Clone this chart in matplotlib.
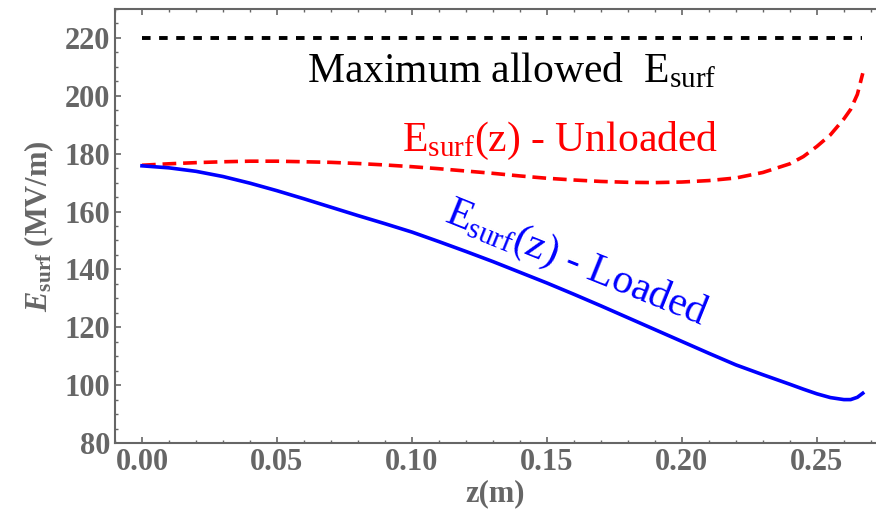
import matplotlib
matplotlib.use("Agg")
import matplotlib.pyplot as plt
from matplotlib.ticker import MultipleLocator

plt.rcParams['font.family'] = 'Liberation Serif'
plt.rcParams['mathtext.fontset'] = 'custom'
plt.rcParams['mathtext.rm'] = 'Liberation Serif'
plt.rcParams['mathtext.it'] = 'Liberation Serif:italic'
plt.rcParams['mathtext.bf'] = 'Liberation Serif:bold'
plt.rcParams['mathtext.bfit'] = 'Liberation Serif:bold:italic'

# values
z = [0.0, 0.01, 0.02, 0.03, 0.04, 0.05, 0.06, 0.07, 0.08, 0.09, 0.10, 0.11, 0.12,
     0.13, 0.14, 0.15, 0.16, 0.17, 0.18, 0.19, 0.20, 0.21, 0.22, 0.23, 0.24,
     0.245, 0.25, 0.255, 0.26, 0.2625, 0.265, 0.267]
e_unloaded = [176.0, 176.5, 176.9, 177.2, 177.4, 177.4, 177.2, 177.0, 176.6, 176.1,
              175.5, 174.8, 174.0, 173.2, 172.3, 171.5, 170.9, 170.4, 170.1, 170.0,
              170.2, 170.7, 171.6, 173.5, 176.5, 179.0, 182.5, 186.5, 192.0, 195.3,
              200.5, 207.8]
e_loaded = [175.8, 175.1, 173.9, 172.1, 169.8, 167.2, 164.4, 161.5, 158.6, 155.8,
            152.9, 149.6, 146.2, 142.7, 139.0, 135.3, 131.4, 127.4, 123.3, 119.2,
            115.1, 111.0, 107.0, 103.6, 100.3, 98.6, 97.0, 95.7, 95.0, 95.0,
            95.8, 97.2]
z_limit = [0.0, 0.2667]
e_limit = [220, 220]

gray = '#666666'

fig = plt.figure(figsize=(8.76, 5.19), dpi=100)
ax = fig.add_axes([115 / 876, 76 / 519, 1 - 115 / 876, 434 / 519])

ax.plot(z_limit, e_limit, color='black', lw=2.8, dashes=(2.2, 2.2))
ax.plot(z, e_unloaded, color='#ff0000', lw=2.6, dashes=(3.8, 1.9))
ax.plot(z, e_loaded, color='#0000ff', lw=2.6)

ax.set_xlim(-0.01, 0.2719)
ax.set_ylim(80, 230)

ax.xaxis.set_major_locator(MultipleLocator(0.05))
ax.xaxis.set_minor_locator(MultipleLocator(0.01))
ax.yaxis.set_major_locator(MultipleLocator(20))
ax.yaxis.set_minor_locator(MultipleLocator(5))
ax.xaxis.set_major_formatter(lambda v, p: f'{v:.2f}')

ax.tick_params(which='both', direction='in', top=True, color=gray,
               labelcolor=gray, labelsize=22)
ax.tick_params(which='major', length=4, width=1.2)
ax.tick_params(which='minor', length=2.5, width=1.0)
for lab in ax.get_xticklabels() + ax.get_yticklabels():
    lab.set_fontweight('bold')

for side in ['left', 'bottom', 'top']:
    ax.spines[side].set_color(gray)
    ax.spines[side].set_linewidth(1.5)
ax.spines['right'].set_visible(False)

ax.set_xlabel('z(m)', fontsize=22, fontweight='bold', color=gray, labelpad=2)
ax.set_ylabel(r'$\mathbfit{E}_{\mathbf{surf}}$ (MV/m)', fontsize=22,
              fontweight='bold', color=gray, labelpad=6)

ax.text(0.137, 208.3, r'Maximum allowed  E$_{\mathrm{surf}}$', fontsize=30,
        ha='center', va='center', color='black')
ax.text(0.155, 184.5, r'E$_{\mathrm{surf}}$(z) - Unloaded', fontsize=30,
        ha='center', va='center', color='#ff0000')
ax.text(0.161, 142, r'E$_{\mathrm{surf}}$(z) - Loaded', fontsize=30,
        ha='center', va='center', color='#0000ff', rotation=-22,
        rotation_mode='anchor')

fig.savefig('out.png', dpi=100)
